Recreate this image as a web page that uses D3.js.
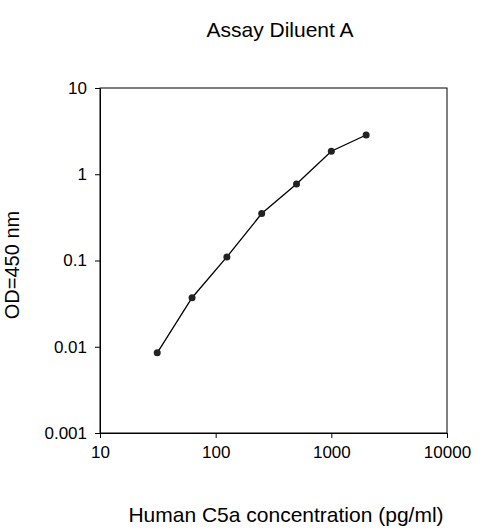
<!DOCTYPE html>
<html><head><meta charset="utf-8">
<script src="https://cdn.jsdelivr.net/npm/d3@7"></script>
<style>body{margin:0;background:#fff}text{font-family:"Liberation Sans",Arial,sans-serif}</style>
</head><body><div class="viz"></div>
<script>
var conc = [31.25, 62.5, 125, 250, 500, 1000, 2000];
var od = [0.0085, 0.037, 0.11, 0.35, 0.77, 1.85, 2.85];
var xTicks = [10, 100, 1000, 10000];
var yTicks = [0.001, 0.01, 0.1, 1, 10];

var width = 500, height = 532;
var svg = d3.select(".viz").append("svg").attr("width", width).attr("height", height);

var x = d3.scaleLog().domain([10, 10000]).range([100, 447]);
var y = d3.scaleLog().domain([0.001, 10]).range([433, 88]);

svg.append("rect").attr("x", 100).attr("y", 88).attr("width", 347).attr("height", 345)
    .attr("fill", "none").attr("stroke", "#000");

var xAxis = svg.append("g").attr("transform", "translate(0,433)")
    .call(d3.axisBottom(x).tickValues(xTicks).tickFormat(d3.format("d")).tickSize(5).tickPadding(8));
var yAxis = svg.append("g").attr("transform", "translate(100,0)")
    .call(d3.axisLeft(y).tickValues(yTicks).tickFormat(function(d){ return d >= 1 ? d3.format("d")(d) : String(d); }).tickSize(5).tickPadding(8));
[xAxis, yAxis].forEach(function(a){
    a.selectAll("text").attr("font-size", 17).attr("fill", "#000").style("font-family", "Liberation Sans, Arial, sans-serif");
    a.select(".domain").attr("stroke", "#000");
});

var line = d3.line().x(function(d){ return x(d[0]); }).y(function(d){ return y(d[1]); });
var pts = conc.map(function(c, i){ return [c, od[i]]; });
svg.append("path").datum(pts).attr("d", line).attr("fill", "none").attr("stroke", "#000").attr("stroke-width", 1.3);
svg.selectAll("circle.p").data(pts).enter().append("circle")
    .attr("cx", function(d){ return x(d[0]); }).attr("cy", function(d){ return y(d[1]); })
    .attr("r", 3.5).attr("fill", "#222");

svg.append("text").attr("x", 280).attr("y", 37).attr("text-anchor", "middle").attr("font-size", 21).text("Assay Diluent A");
svg.append("text").attr("x", 286).attr("y", 522).attr("text-anchor", "middle").attr("font-size", 21).text("Human C5a concentration (pg/ml)");
svg.append("text").attr("transform", "translate(19,265) rotate(-90)").attr("text-anchor", "middle").attr("font-size", 20).text("OD=450 nm");
</script></body></html>
